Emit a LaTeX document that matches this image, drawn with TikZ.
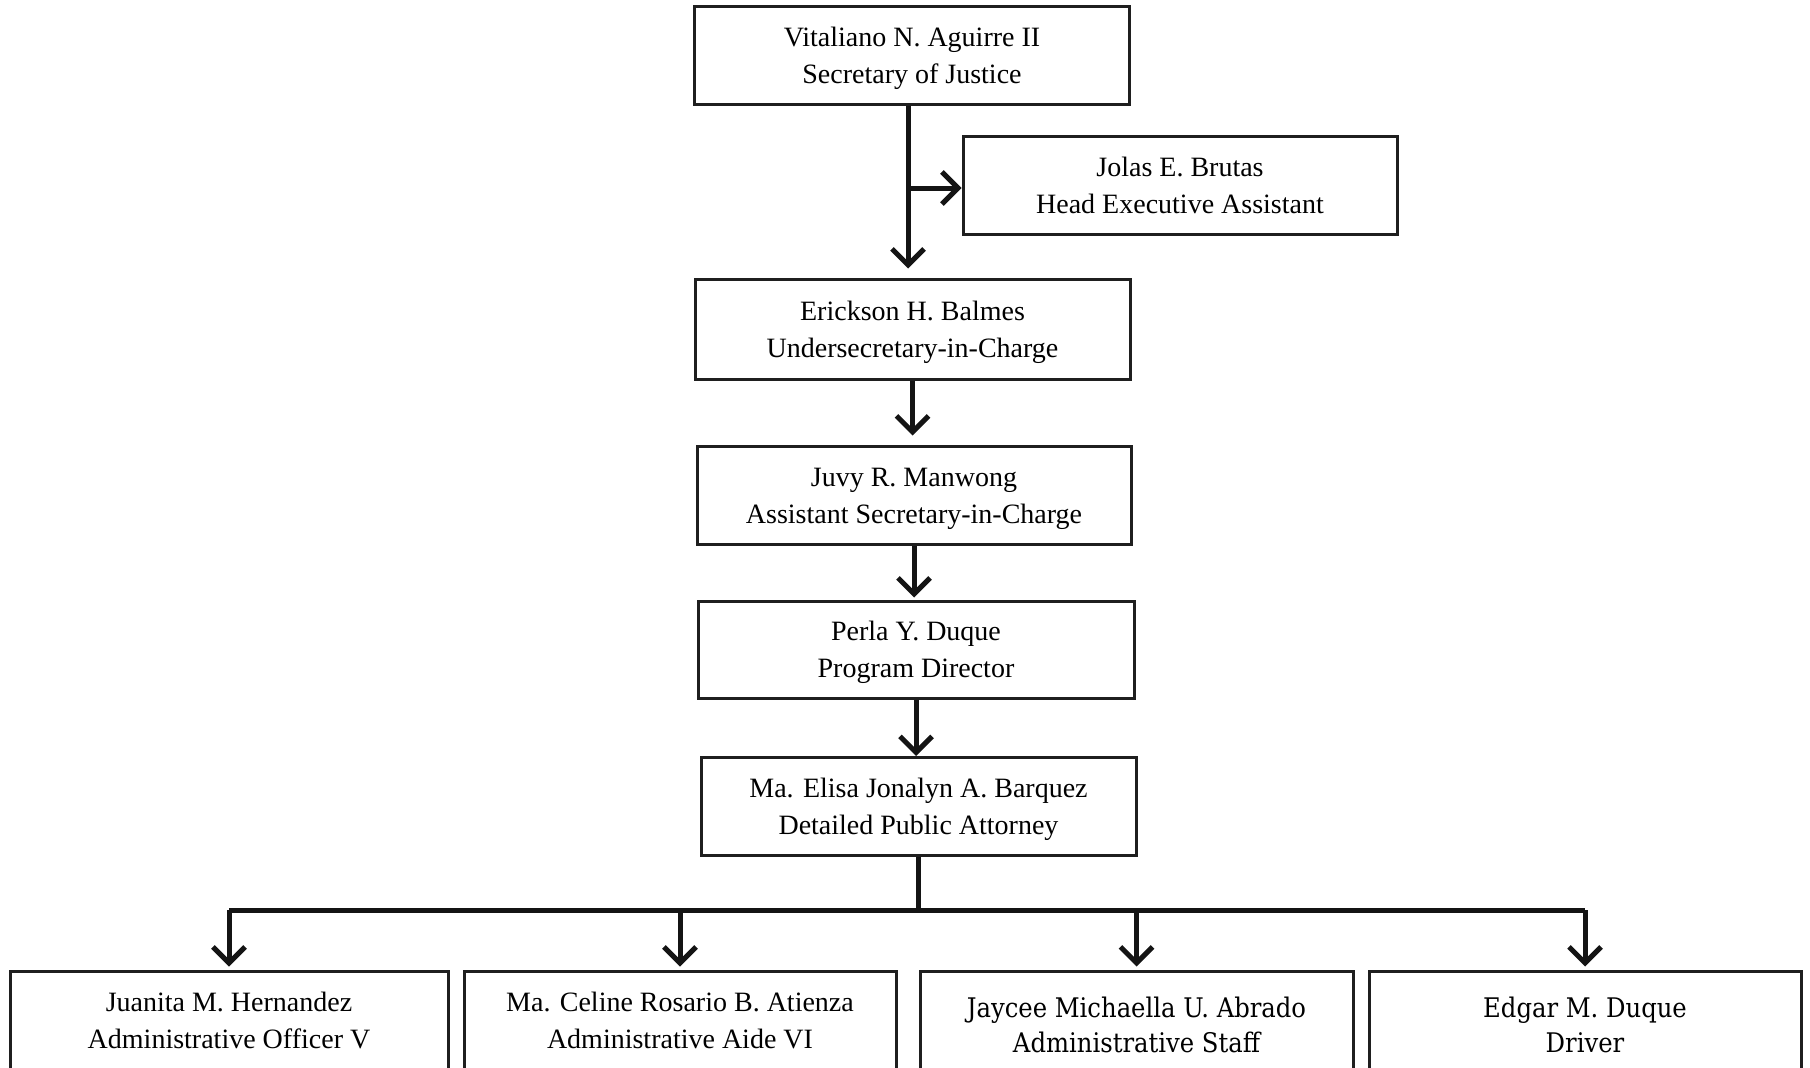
\documentclass[tikz,border=0pt]{standalone}
\usepackage{fontspec}
\setmainfont{Liberation Serif}
\newfontfamily\condfont{DejaVu Serif Condensed}
\usetikzlibrary{arrows.meta}
% two-line box text with fixed first-line height and last-line depth
\newlength\firstlineht
\newcommand\twoline[2]{\rule{0pt}{\firstlineht}#1\\#2\rule[-8pt]{0pt}{0pt}}
\begin{document}
\begin{tikzpicture}[x=1pt,y=-1pt,
  box/.style={draw=black!88, line width=3pt, fill=white, rectangle, align=center,
    minimum height=98pt, inner sep=0pt,
    font=\fontsize{28}{37}\selectfont\setlength{\firstlineht}{27pt}},
  narrow/.style={font=\condfont\fontsize{27}{35}\selectfont\setlength{\firstlineht}{37pt}},
  conn/.style={line width=5pt, draw=black!92},
  arr/.style={conn, -{Straight Barb[length=16pt,width=32pt,line width=5pt]}, shorten >=3pt},
]
\useasboundingbox (0,0) rectangle (1810,1068);
\clip (0,0) rectangle (1810,1068);
\fill[white] (0,0) rectangle (1810,1068);

% chain of command
\node[box, minimum width=435pt] (sec) at (912,55) {\twoline{Vitaliano N. Aguirre II}{Secretary of Justice}};
\node[box, minimum width=434pt] (hea) at (1180,185) {\twoline{Jolas E. Brutas}{Head Executive Assistant}};
\node[box, minimum width=435pt, minimum height=100pt] (usec) at (912.5,329) {\twoline{Erickson H. Balmes}{Undersecretary-in-Charge}};
\node[box, minimum width=434pt] (asec) at (914,495) {\twoline{Juvy R. Manwong}{Assistant Secretary-in-Charge}};
\node[box, minimum width=436pt, minimum height=97pt] (pdir) at (916,649.5) {\twoline{Perla Y. Duque}{Program Director}};
\node[box, minimum width=435pt] (dpa) at (918.5,806.5) {\twoline{Ma. Elisa Jonalyn A. Barquez}{Detailed Public Attorney}};

% staff row
\node[box, minimum width=438pt] (s1) at (229,1020) {\twoline{Juanita M. Hernandez}{Administrative Officer V}};
\node[box, minimum width=432pt] (s2) at (680,1020) {\twoline{Ma. Celine Rosario B. Atienza}{Administrative Aide VI}};
\node[box, minimum width=433pt, narrow] (s3) at (1136.5,1020) {\twoline{Jaycee Michaella U. Abrado}{Administrative Staff}};
\node[box, minimum width=432pt, narrow] (s4) at (1585,1020) {\twoline{Edgar M. Duque}{Driver}};

% connectors
\coordinate (tap) at (908,188);
\coordinate (bus) at (0,910);
\draw[arr, shorten >=9pt] (sec.south -| tap) -- (usec.north -| tap);
\draw[arr, shorten >=0pt] (tap) -- (tap -| hea.west);
\draw[arr, shorten >=9pt] (usec.south) -- (usec.south |- asec.north);
\draw[arr, shorten >=2pt] (asec.south) -- (asec.south |- pdir.north);
\draw[arr, shorten >=0pt] (pdir.south) -- (pdir.south |- dpa.north);
\draw[conn] (dpa.south) -- (dpa.south |- bus);
\draw[conn] (s1.north |- bus) -- (s4.north |- bus);
\foreach \s in {s1,s2,s3,s4}
  \draw[arr] (\s.north |- bus) -- (\s.north);
\end{tikzpicture}
\end{document}
